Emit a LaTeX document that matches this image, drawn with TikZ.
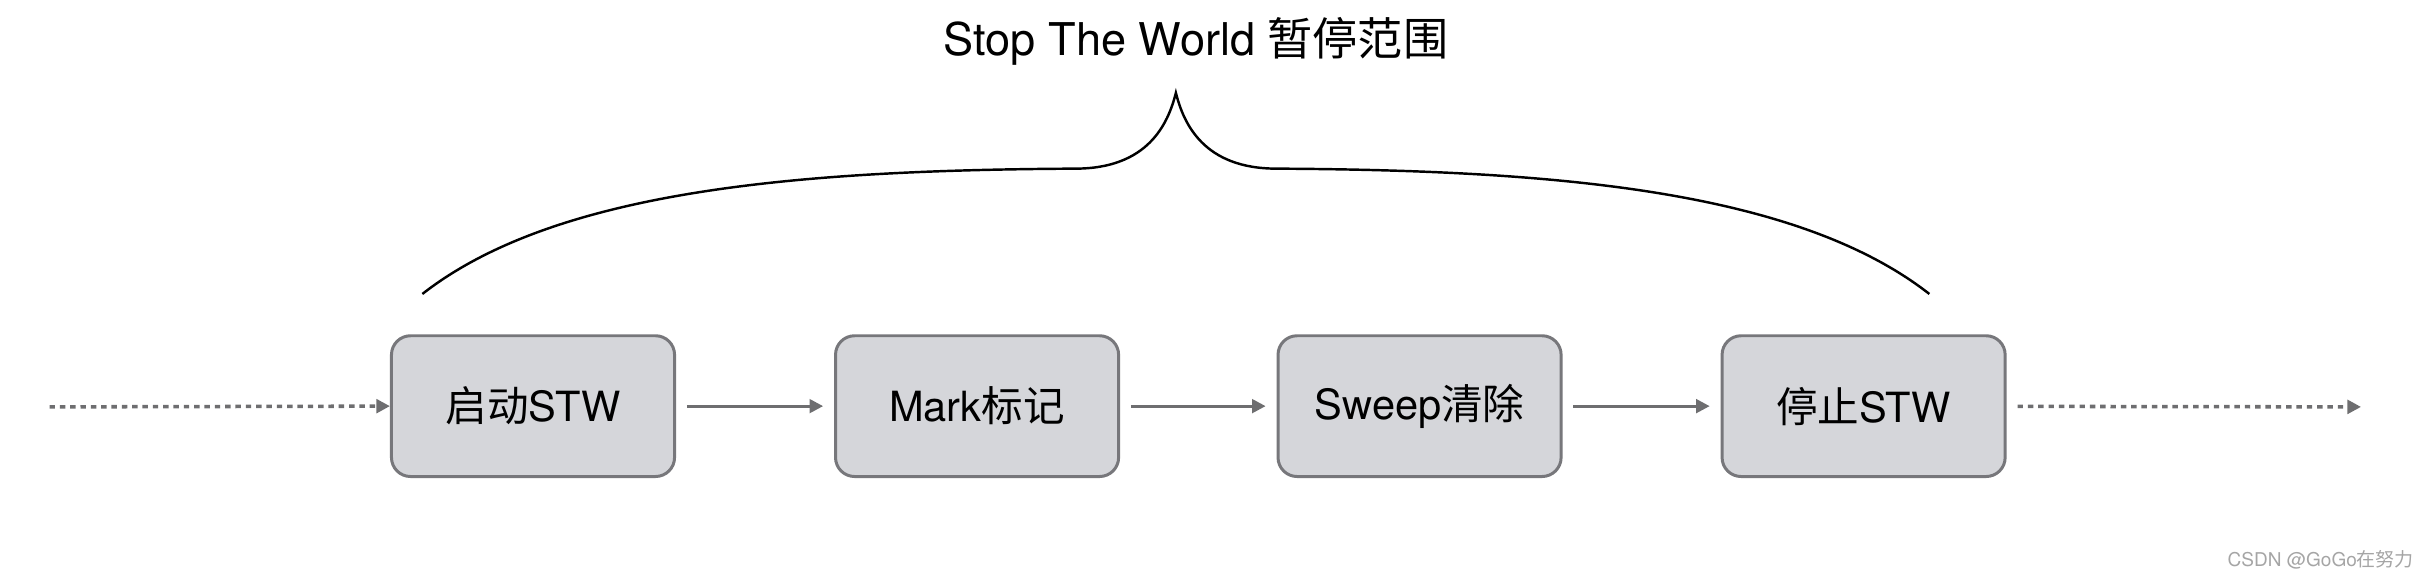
\documentclass[tikz,border=0pt]{standalone}
\usepackage{fontspec}
\setmainfont{TeX Gyre Heros}
\newfontfamily\cjk{Noto Sans CJK SC}
\usepackage{xcolor}
\usepackage{tikz}
\usetikzlibrary{arrows.meta, positioning}

\definecolor{boxfill}{HTML}{D5D6DA}
\definecolor{boxdraw}{HTML}{77777B}
\definecolor{flowgray}{HTML}{6E6E70}
\definecolor{markgray}{HTML}{A5A5A5}

\begin{document}
\begin{tikzpicture}[
    x=0.02cm, y=-0.02cm,
    stage_node/.style={
        rectangle,
        draw=boxdraw,
        fill=boxfill,
        line width=1.1pt,
        rounded corners=7pt,
        minimum width=3.66cm,
        minimum height=1.82cm,
        inner sep=0pt,
        align=center,
        font=\fontsize{15.3}{18}\selectfont
    },
    title_node/.style={
        align=center,
        inner sep=0pt,
        font=\fontsize{16.6}{20}\selectfont
    },
    flow_arrow/.style={-{Triangle[length=5pt,width=5pt]}, line width=1.1pt, flowgray},
    idle_arrow/.style={flow_arrow, line width=1.3pt, dash pattern=on 2pt off 1.8pt},
    brace_line/.style={line width=0.9pt, black}
]

    % fixed frame
    \useasboundingbox (0,0) rectangle (1568,374);

    % Nodes with manual positioning for stability
    \node[title_node] (title) at (773, 27) {Stop The World {\cjk 暂停范围}};

    \node[stage_node] (start) at (344.5, 262.5) {{\cjk 启动}STW};
    \node[stage_node] (mark)  at (631.5, 262.5) {Mark{\cjk 标记}};
    \node[stage_node] (sweep) at (917.5, 262.5) {Sweep{\cjk 清除}};
    \node[stage_node] (stop)  at (1204.5, 262.5) {{\cjk 停止}STW};

    \coordinate (before) at (32, 263);
    \coordinate (after) at (1526, 263);

    \node[inner sep=0pt, text=markgray, font=\fontsize{7}{8}\selectfont] (credit) at (1500, 362) {CSDN @GoGo{\cjk 在努力}};

    % Brace
    \draw[brace_line] (273,190) .. controls (360,122) and (520,110) .. (695,109)
        .. controls (742,109) and (755,80) .. (760,60)
        .. controls (765,80) and (778,109) .. (825,109)
        .. controls (1000,110) and (1160,122) .. (1247,190);

    % Arrows
    \draw[idle_arrow] (before) -- (start.west);
    \draw[flow_arrow, shorten <=4pt, shorten >=4pt] (start) -- (mark);
    \draw[flow_arrow, shorten <=4pt, shorten >=4pt] (mark) -- (sweep);
    \draw[flow_arrow, shorten <=4pt, shorten >=4pt] (sweep) -- (stop);
    \draw[idle_arrow, shorten <=4pt] (stop) -- (after);

\end{tikzpicture}
\end{document}
